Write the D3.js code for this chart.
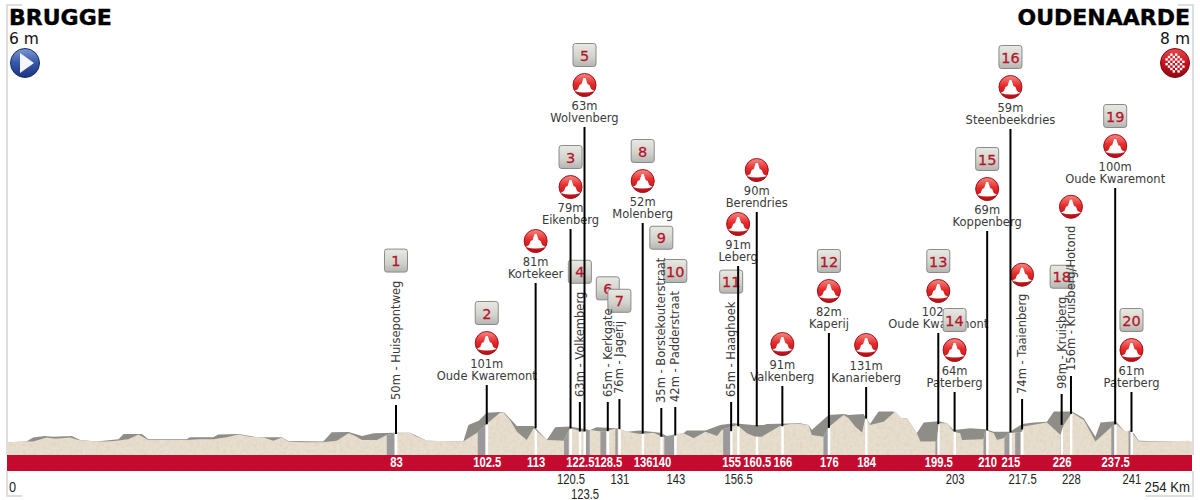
<!DOCTYPE html>
<html>
<head>
<meta charset="utf-8">
<title>Brugge - Oudenaarde</title>
<script src="https://cdn.jsdelivr.net/npm/d3@7"></script>
<style>
  html, body { margin: 0; padding: 0; background: #fff; }
  svg { display: block; }
  .lbl { font-family: "DejaVu Sans", sans-serif; font-size: 11.5px; fill: #3a3a3a; }
  .axis .domain { display: none; }
</style>
</head>
<body>
<svg id="chart" width="1200" height="500"></svg>
<script>
// profile, front layer (light)
const frontKm = [0,3.9,5.6,8.5,10.3,11.7,13.5,15.3,19.2,21.4,23.5,26,28.2,29.2,30.3,38.5,41.4,44.2,47.1,49.6,52.1,55,57.1,58.9,60.3,63.2,67.8,70.7,73.2,74.6,76.1,79.3,81.4,83.2,86.4,87.5,90,97.8,101.1,103,105.7,106.4,107.8,109.3,111.4,112.9,115.7,119.3,120.7,122.1,123.4,125,127.9,130.7,132.9,135.7,138.6,140.4,141.4,143.2,145,147.2,149.7,152.2,153.2,156.5,158.6,160.4,161.8,165.7,167.9,170,171.8,172.5,175,176.1,179.3,180.4,181.8,183.3,184,185,187.9,190.4,191.8,192.9,195,195.8,199.3,199.7,201.5,202.9,204.3,204.7,209.3,209.7,211.5,212.2,213.6,214.7,217.6,217.9,222.9,225.8,226.5,228.3,230.8,233.3,237.6,239.7,240.8,242.6,249.4,253.3,254];
const frontElev = [6,10,10,32,25,27,32,18,10,10,15,22,47,33,18,18,22,22,33,47,36,31,15,32,10,6,6,15,54,40,18,18,45,54,57,40,15,10,62,106,162,162,124,62,18,80,18,15,80,71,62,71,62,80,62,50,57,36,33,50,54,27,62,40,71,97,54,36,36,92,103,103,97,45,36,85,150,133,89,57,138,97,115,168,133,133,54,10,10,106,106,62,54,18,22,71,54,18,27,54,62,89,110,45,97,162,124,10,106,62,68,10,10,15,8];

// profile, back layer (grey)
const backKm = [0,4.2,5.6,8.1,9.9,13.9,15.7,19.2,23.9,25,28.9,30.3,38.5,39.2,44.2,45.3,49.6,53.5,58.9,60.3,67.8,69.6,73.2,76.1,78.6,83.2,86.4,90,97.8,98.9,101.1,102.8,105.7,106.6,109.3,112.9,115.7,117.5,120.7,125,126.4,130.7,132.9,135.7,140,141.4,145,145.7,149.7,152.9,155.7,160,162.2,162.9,170,171.8,172.5,174.3,176.1,179.3,180.4,183.6,185,186.8,190,191.5,192.9,195,196.5,199.7,201.5,202.9,206.5,209.7,211.5,215,217.6,220.1,222.9,224.4,228.3,230.8,233.3,234.4,237.6,239.7,241.5,242.6,254];
const backElev = [6,10,32,40,36,40,18,10,22,50,50,22,22,33,33,47,50,33,33,13,10,59,61,40,54,57,57,15,10,97,120,162,166,162,92,92,18,85,89,71,85,80,62,68,57,40,54,68,68,97,106,97,97,103,106,97,71,110,150,155,150,155,103,168,168,133,133,54,110,117,106,71,80,75,62,62,103,110,115,168,168,133,36,110,117,62,54,15,8];

// grey cobbled sections along the road
const sectionFrom = [81.4,100.9,119.4,124.1,127.2,130.4,140.9,153.5,175,199,209.3,213.8,216.1,225.8,236.7,240.4];
const sectionTo = [83,102.5,120.4,124.9,128.4,130.9,143,155.2,175.9,199.7,209.9,215,217.2,226.1,237.6,240.9];

// climbs and cobbles
const climbKm = [83,102.5,113,120.5,122.5,123.5,128.5,131,136,140,143,155,156.5,160.5,166,176,184,199.5,203,210,215,217.5,226,228,237.5,241];
const climbElev = [50,101,81,79,63,63,65,76,52,35,42,65,91,90,91,82,131,102,64,69,59,74,98,156,100,61];
const climbName = ["Huisepontweg","Oude Kwaremont","Kortekeer","Eikenberg","Volkemberg","Wolvenberg","Kerkgate","Jagerij","Molenberg","Borstekouterstraat","Padderstraat","Haaghoek","Leberg","Berendries","Valkenberg","Kaperij","Kanarieberg","Oude Kwaremont","Paterberg","Koppenberg","Steenbeekdries","Taaienberg","Kruisberg","Kruisberg/Hotond","Oude Kwaremont","Paterberg"];
const climbNumber = [1,2,null,3,4,5,6,7,8,9,10,11,null,null,null,12,null,13,14,15,16,null,18,null,19,20];
const climbUpright = [1,0,0,0,1,0,1,1,0,1,1,1,0,0,0,0,0,0,0,0,0,1,1,1,0,0];
const climbIcon = [0,1,1,1,0,1,0,0,1,0,0,0,1,1,1,1,1,1,1,1,1,1,0,1,1,1];

// km labels
const bandKm = [83,102.5,113,122.5,128.5,136,140,155,160.5,166,176,184,199.5,210,215,226,237.5];
const lowerKm = [120.5,131,143,156.5,203,217.5,228,241];
const lowestKm = [123.5];

const startName = "BRUGGE", startAlt = "6 m";
const finishName = "OUDENAARDE", finishAlt = "8 m";
const totalKm = 254;

// layout of the annotations, pixel y of the top of each stem
const stemTop = [405,385,283,229,402,127,402,399,223,408,407,402,266,212,386,333,387,333,392,231,129,399,394,376,188,392];

const svg = d3.select('#chart');
const defs = svg.append('defs');
const bandTop = 455, bandBottom = 471;

// the profile fills the band edge to edge, the km marks start a little further in
let profileX = d3.scaleLinear().domain([0, totalKm]).range([7, 1192]);
let x = d3.scaleLinear().domain([0, totalKm]).range([9.6, 1192]);
let y = d3.scaleLinear().domain([0, 200]).range([443.5, 405.5]);

// gradients
function vGrad(id, stops) {
  let g = defs.append('linearGradient').attr('id', id).attr('x1', 0).attr('y1', 0).attr('x2', 0).attr('y2', 1);
  stops.forEach(s => g.append('stop').attr('offset', s[0]).attr('stop-color', s[1]));
}
vGrad('badgeFill', [[0, '#e9e9e4'], [0.6, '#d2d2cd'], [1, '#b4b4b0']]);
vGrad('iconFill', [[0, '#f58a84'], [0.45, '#e52a2a'], [1, '#b40d14']]);
vGrad('startFill', [[0, '#7f99d8'], [0.5, '#3557a8'], [1, '#1c3480']]);
vGrad('finishFill', [[0, '#e8494d'], [0.5, '#c8101e'], [1, '#8f0a12']]);

// sandy texture for the profile
let speckle = defs.append('filter').attr('id', 'speckle')
  .attr('x', 0).attr('y', 0).attr('width', 1).attr('height', 1);
speckle.append('feTurbulence').attr('type', 'fractalNoise').attr('baseFrequency', 0.3)
  .attr('numOctaves', 2).attr('seed', 4).attr('result', 'noise');
speckle.append('feColorMatrix').attr('in', 'noise').attr('type', 'matrix')
  .attr('values', '0 0 0 0 0.74  0 0 0 0 0.64  0 0 0 0 0.50  1.9 0 0 0 -0.8').attr('result', 'tint');
speckle.append('feComposite').attr('in', 'tint').attr('in2', 'SourceAlpha').attr('operator', 'in').attr('result', 'spots');
let merge = speckle.append('feMerge');
merge.append('feMergeNode').attr('in', 'SourceGraphic');
merge.append('feMergeNode').attr('in', 'spots');

// frame
svg.append('path')
  .attr('d', `M22,5H7V${bandTop}M7,471V496H22M1178,5H1193V${bandTop}M1193,471V496H1146`)
  .attr('fill', 'none').attr('stroke', '#d4d4d4').attr('stroke-width', 1.5);

// profile
let area = (kms, elevs) => d3.area()
  .x((d, i) => profileX(kms[i]))
  .y0(bandTop)
  .y1((d, i) => y(elevs[i]))(kms);

svg.append('path').attr('d', area(backKm, backElev)).attr('fill', '#8e8d88');
svg.append('path').attr('d', area(frontKm, frontElev)).attr('fill', '#e7decf').attr('filter', 'url(#speckle)');

defs.append('clipPath').attr('id', 'frontClip').append('path').attr('d', area(frontKm, frontElev));
let under = svg.append('g').attr('clip-path', 'url(#frontClip)');
under.selectAll('rect.section').data(sectionFrom).enter().append('rect').attr('class', 'section')
  .attr('x', d => profileX(d))
  .attr('width', (d, i) => profileX(sectionTo[i]) - profileX(d))
  .attr('y', 400).attr('height', bandTop - 400)
  .attr('fill', '#9a9a9c');
under.selectAll('rect.road').data(climbKm).enter().append('rect').attr('class', 'road')
  .attr('x', d => x(d) - 1)
  .attr('width', 2.4)
  .attr('y', 400).attr('height', bandTop - 400)
  .attr('fill', '#fff');

// red band and km labels
svg.append('rect').attr('x', 7).attr('y', bandTop)
  .attr('width', 1192 - 7).attr('height', bandBottom - bandTop).attr('fill', '#c50a30');

// no narrow face installed, so the labels get squeezed
function squeeze(sel, factor) {
  sel.each(function () {
    d3.select(this).attr('textLength', this.getComputedTextLength() * factor).attr('lengthAdjust', 'spacingAndGlyphs');
  });
}

function kmAxis(values, top, colour, weight) {
  let g = svg.append('g').attr('class', 'axis').attr('transform', `translate(0,${top})`)
    .call(d3.axisBottom(x).tickValues(values).tickSize(0).tickPadding(0).tickFormat(d => d));
  let labels = g.selectAll('text')
    .attr('font-family', '"Liberation Sans", sans-serif')
    .attr('font-size', 15).attr('font-weight', weight).attr('fill', colour);
  squeeze(labels, 0.75);
}
kmAxis(bandKm, 456, '#fff', 'bold');
kmAxis(lowerKm, 473, '#222', 'normal');
kmAxis(lowestKm, 488, '#222', 'normal');

squeeze(svg.append('text').attr('x', 9).attr('y', 492)
  .attr('font-family', '"Liberation Sans", sans-serif')
  .attr('font-size', 15).attr('fill', '#222').text('0'), 0.85);
squeeze(svg.append('text').attr('x', 1190).attr('y', 492).attr('text-anchor', 'end')
  .attr('font-family', '"Liberation Sans", sans-serif')
  .attr('font-size', 15.5).attr('fill', '#222').text(totalKm + ' Km'), 0.85);

// climb annotations
const climbs = climbKm.map((km, i) => ({
  km, elev: climbElev[i], name: climbName[i], number: climbNumber[i],
  upright: climbUpright[i] === 1, icon: climbIcon[i] === 1, top: stemTop[i], px: x(km)
}));

let flat = climbs.filter(c => !c.upright);
let upright = climbs.filter(c => c.upright);

// upright labels are measured so badge and icon can sit on their end
let uprightLayer = svg.append('g');
let labelLayer = svg.insert('g', () => uprightLayer.node());
let badgeLayer = svg.insert('g', () => uprightLayer.node());
let iconLayer = svg.insert('g', () => badgeLayer.node());

labelLayer.selectAll('text.elev').data(flat).enter().append('text')
  .attr('class', 'lbl elev').attr('text-anchor', 'middle')
  .attr('x', d => d.px).attr('y', d => d.top - 17).text(d => d.elev + 'm');
labelLayer.selectAll('text.name').data(flat).enter().append('text')
  .attr('class', 'lbl name').attr('text-anchor', 'middle')
  .attr('x', d => d.px).attr('y', d => d.top - 5).text(d => d.name);

uprightLayer.selectAll('text').data(upright).enter().append('text')
  .attr('class', 'lbl')
  .attr('transform', d => `translate(${d.px + 4},${d.top - 5}) rotate(-90)`)
  .text(d => `${d.elev}m - ${d.name}`)
  .each(function (d) { d.labelEnd = d.top - 5 - this.getComputedTextLength(); });

flat.forEach(d => { d.iconY = d.top - 42; d.badgeY = d.iconY - 30; });
upright.forEach(d => { d.iconY = d.labelEnd - 19; d.badgeY = d.labelEnd - 20; });

function drawIcon(c) {
  let g = iconLayer.append('g').attr('transform', `translate(${c.px},${c.iconY})`);
  g.append('circle').attr('r', 11.5).attr('fill', 'url(#iconFill)').attr('stroke', '#a3121b').attr('stroke-width', 1);
  g.append('path')
    .attr('d', 'M-10,6L-6.5,4L-5,0L-3,-1L-1,-7H1L3,-1L5,0L6.5,4L10,6Q0,9,-10,6Z')
    .attr('fill', '#fff');
}
climbs.filter(c => c.icon).forEach(drawIcon);

function drawBadge(c) {
  let g = badgeLayer.append('g').attr('transform', `translate(${c.px},${c.badgeY})`);
  g.append('rect').attr('x', -11.5).attr('y', -11.5).attr('width', 23).attr('height', 23).attr('rx', 2.5)
    .attr('fill', 'url(#badgeFill)').attr('stroke', '#8a8a8a').attr('stroke-width', 1);
  g.append('text').attr('text-anchor', 'middle').attr('y', 5.5)
    .attr('font-family', '"DejaVu Sans", sans-serif').attr('font-size', 14.5)
    .attr('fill', '#b5152a').attr('stroke', '#b5152a').attr('stroke-width', 0.3).text(c.number);
}
climbs.filter(c => c.number !== null).forEach(drawBadge);

// stems go over everything
svg.append('g').selectAll('line').data(climbs).enter().append('line')
  .attr('x1', d => d.px).attr('x2', d => d.px)
  .attr('y1', d => d.top).attr('y2', d => y(d.elev))
  .attr('stroke', '#000').attr('stroke-width', 2);

// start and finish
svg.append('text').attr('x', 9).attr('y', 25)
  .attr('font-family', '"DejaVu Sans", sans-serif').attr('font-weight', 'bold').attr('font-size', 22)
  .attr('fill', '#000').attr('stroke', '#000').attr('stroke-width', 0.4).text(startName);
svg.append('text').attr('x', 9).attr('y', 44)
  .attr('font-family', '"DejaVu Sans", sans-serif').attr('font-size', 15.5).attr('fill', '#111').text(startAlt);
svg.append('text').attr('x', 1190).attr('y', 25).attr('text-anchor', 'end')
  .attr('font-family', '"DejaVu Sans", sans-serif').attr('font-weight', 'bold').attr('font-size', 22)
  .attr('fill', '#000').attr('stroke', '#000').attr('stroke-width', 0.4).text(finishName);
svg.append('text').attr('x', 1190).attr('y', 44).attr('text-anchor', 'end')
  .attr('font-family', '"DejaVu Sans", sans-serif').attr('font-size', 15.5).attr('fill', '#111').text(finishAlt);

let start = svg.append('g').attr('transform', 'translate(25,63)');
start.append('circle').attr('r', 14.5).attr('fill', 'url(#startFill)').attr('stroke', '#1a2c66');
start.append('path').attr('d', 'M-5,-10L9,0L-5,10Z').attr('fill', '#f4f6fb');

let finish = svg.append('g').attr('transform', 'translate(1175,63)');
finish.append('circle').attr('r', 14.5).attr('fill', 'url(#finishFill)').attr('stroke', '#7f0a10');
d3.range(-4, 4).forEach(i => d3.range(-4, 4).forEach(j => {
  if ((i + j) % 2 === 0 && Math.hypot(i + 0.5, j + 0.5) < 3.9) {
    finish.append('rect').attr('x', i * 2.4).attr('y', j * 2.4).attr('width', 2.4).attr('height', 2.4).attr('fill', '#fff');
  }
}));
</script>
</body>
</html>
